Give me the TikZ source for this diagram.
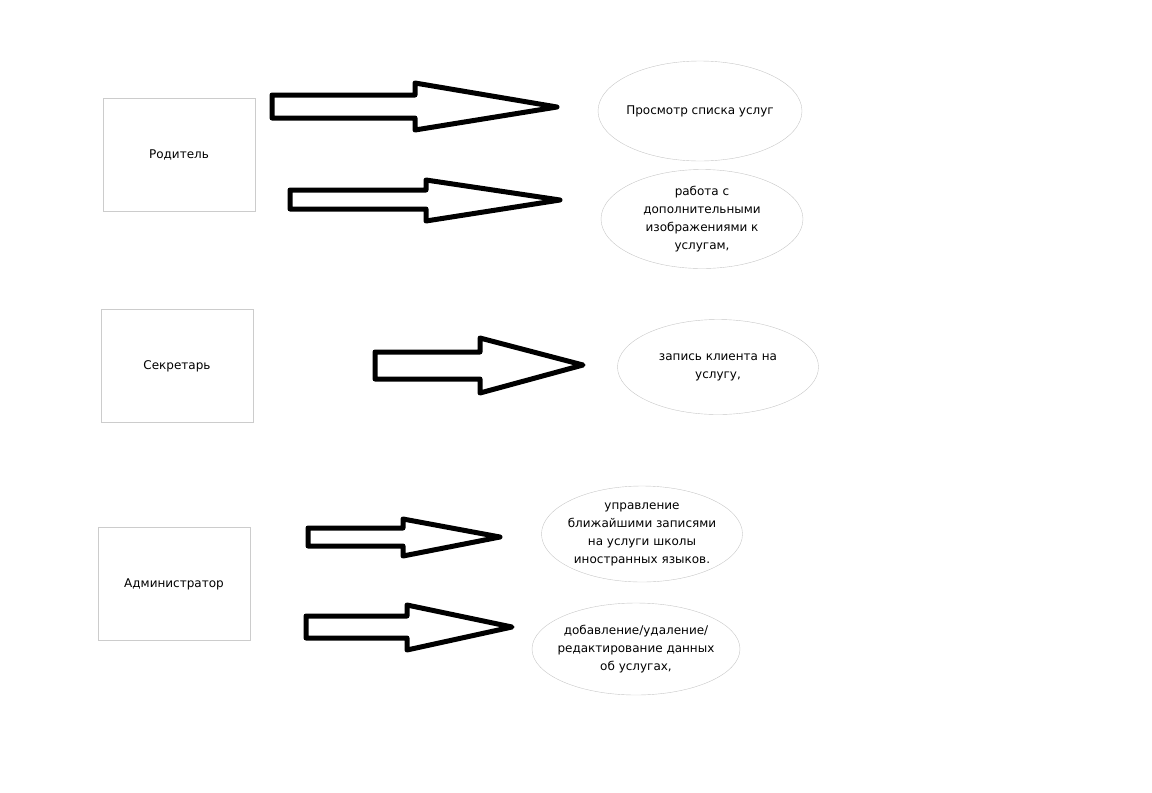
\documentclass[tikz,border=0pt]{standalone}
\usepackage{fontspec}
\setmainfont{DejaVu Sans}
\usetikzlibrary{shapes.geometric}
\tikzset{
	actor/.style={draw=gray!40, minimum width=152pt, minimum height=113pt, inner sep=0pt},
	usecase/.style={draw=gray!45, ellipse, align=center, inner xsep=-30pt, inner ysep=-10pt},
	blockarrow/.style={line width=5pt, line join=round}
}
\begin{document}
\begin{tikzpicture}[x=1pt, y=-1pt, font=\fontsize{12}{18}\selectfont]
		\useasboundingbox (0,0) rectangle (1152,793);
		% roles
		\node[actor] (parent) at (179,155) {Родитель};
		\node[actor] (secretary) at (177,366) {Секретарь};
		\node[actor] (admin) at (174,584) {Администратор};
		% functions
		\node[usecase, minimum width=204pt, minimum height=100pt] (view) at (700,111) {Просмотр списка услуг};
		\node[usecase, minimum width=202pt, minimum height=99pt] (images) at (702,219) {работа с\\дополнительными\\изображениями к\\услугам,};
		\node[usecase, minimum width=201pt, minimum height=95pt] (booking) at (718,367) {запись клиента на\\услугу,};
		\node[usecase, minimum width=201pt, minimum height=96pt] (manage) at (642,534) {управление\\ближайшими записями\\на услуги школы\\иностранных языков.};
		\node[usecase, minimum width=208pt, minimum height=92pt] (edit) at (636,649) {добавление/удаление/\\редактирование данных\\об услугах,};
		% arrows
			\draw[blockarrow] (272,95)--(415,95)--(415,83)--(557,107)--(415,130)--(415,118)--(272,118)--cycle;
			\draw[blockarrow] (290,190)--(426,190)--(426,180)--(560,200)--(426,221)--(426,209)--(290,209)--cycle;
			\draw[blockarrow] (375,352)--(480,352)--(480,338)--(583,365)--(480,393)--(480,379)--(375,379)--cycle;
			\draw[blockarrow] (308,528)--(403,528)--(403,519)--(500,537)--(403,556)--(403,546)--(308,546)--cycle;
			\draw[blockarrow] (306,616)--(407,616)--(407,605)--(512,627)--(407,650)--(407,638)--(306,638)--cycle;
	\end{tikzpicture}
\end{document}
